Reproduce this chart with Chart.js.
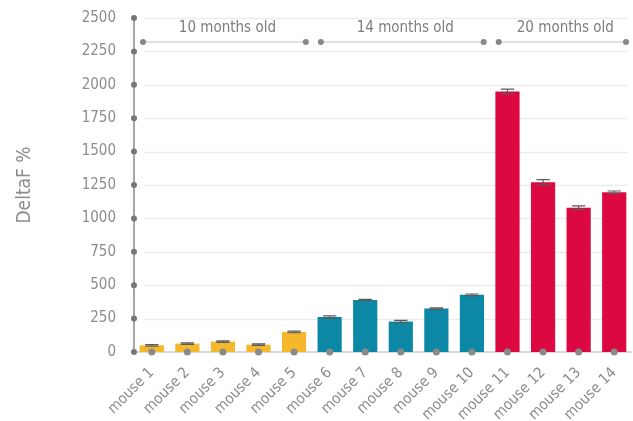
<!DOCTYPE html>
<html>
<head>
<meta charset="utf-8">
<script src="https://cdn.jsdelivr.net/npm/chart.js@4/dist/chart.umd.min.js"></script>
<style>
  html, body { margin: 0; padding: 0; background: #fff; }
  #wrap { position: relative; width: 633px; height: 421px; }
</style>
</head>
<body>
<div id="wrap"><canvas id="deltaChart"></canvas></div>
<script>
const mice = ["mouse 1", "mouse 2", "mouse 3", "mouse 4", "mouse 5", "mouse 6", "mouse 7",
  "mouse 8", "mouse 9", "mouse 10", "mouse 11", "mouse 12", "mouse 13", "mouse 14"];
const deltaF = [50, 63, 78, 55, 150, 262, 390, 228, 325, 428, 1950, 1270, 1080, 1195];
const deltaErr = [6, 6, 6, 6, 6, 8, 4, 8, 6, 6, 18, 20, 14, 10];
const yTicks = [0, 250, 500, 750, 1000, 1250, 1500, 1750, 2000, 2250, 2500];

// age groups: label, first and last mouse index
const groupLabels = ["10 months old", "14 months old", "20 months old"];
const groupStart = [0, 5, 10];
const groupEnd = [4, 9, 13];
const groupColors = ["#F5B82C", "#0D87A6", "#DB0841"];
const bracketLevel = 2320;

const FONT = "'Liberation Sans Narrow', 'DejaVu Sans Condensed', Roboto, sans-serif";

const barColors = mice.map((m, i) => {
  const g = groupStart.findIndex((s, k) => i >= s && i <= groupEnd[k]);
  return groupColors[g];
});

function dot(ctx, x, y, r, color) {
  ctx.beginPath();
  ctx.arc(x, y, r, 0, Math.PI * 2);
  ctx.fillStyle = color;
  ctx.fill();
}

const decorPlugin = {
  id: "decor",
  beforeDatasetsDraw(chart) {
    const { ctx, chartArea: a, scales: { x, y } } = chart;
    ctx.save();
    // light horizontal gridlines
    ctx.strokeStyle = "#ececec";
    ctx.lineWidth = 1.5;
    yTicks.forEach(v => {
      if (v === 0) return;
      const py = Math.round(y.getPixelForValue(v)) + 0.5;
      ctx.beginPath();
      ctx.moveTo(a.left + 10, py);
      ctx.lineTo(a.right - 4, py);
      ctx.stroke();
    });
    // baseline
    ctx.strokeStyle = "#c9cfd4";
    ctx.lineWidth = 1.5;
    const by = y.getPixelForValue(0);
    ctx.beginPath();
    ctx.moveTo(a.left, by);
    ctx.lineTo(a.right, by);
    ctx.stroke();
    // y axis line with tick dots
    ctx.strokeStyle = "#8a8a8a";
    ctx.lineWidth = 1.5;
    ctx.beginPath();
    ctx.moveTo(a.left, y.getPixelForValue(2500));
    ctx.lineTo(a.left, by);
    ctx.stroke();
    yTicks.forEach(v => dot(ctx, a.left, y.getPixelForValue(v), 3, "#777"));

    // age group brackets
    const half = (x.getPixelForValue(1) - x.getPixelForValue(0)) / 2;
    const ly = y.getPixelForValue(bracketLevel);
    groupLabels.forEach((label, k) => {
      const x0 = x.getPixelForValue(groupStart[k]) - half + 9;
      const x1 = x.getPixelForValue(groupEnd[k]) + half - 6;
      ctx.strokeStyle = "#d4d4d4";
      ctx.lineWidth = 1.5;
      ctx.beginPath();
      ctx.moveTo(x0, ly);
      ctx.lineTo(x1, ly);
      ctx.stroke();
      dot(ctx, x0, ly, 3, "#888");
      dot(ctx, x1, ly, 3, "#888");
      ctx.fillStyle = "#7d7d7d";
      ctx.font = "15px " + FONT;
      ctx.textAlign = "center";
      ctx.textBaseline = "middle";
      ctx.fillText(label, (x0 + x1) / 2 + 3, ly - 14);
    });
    ctx.restore();
  },
  afterDatasetsDraw(chart) {
    const { ctx, scales: { x, y } } = chart;
    const meta = chart.getDatasetMeta(0);
    ctx.save();
    // error caps
    meta.data.forEach((bar, i) => {
      const top = y.getPixelForValue(deltaF[i] + deltaErr[i]);
      const bot = y.getPixelForValue(deltaF[i] - deltaErr[i]);
      const w = bar.width * 0.55;
      ctx.strokeStyle = "#5a5a5a";
      ctx.lineWidth = 1.2;
      ctx.beginPath();
      ctx.moveTo(bar.x, top);
      ctx.lineTo(bar.x, bot);
      ctx.moveTo(bar.x - w / 2, top);
      ctx.lineTo(bar.x + w / 2, top);
      ctx.moveTo(bar.x - w / 2, bot);
      ctx.lineTo(bar.x + w / 2, bot);
      ctx.stroke();
    });
    // base dots at each category
    const by = y.getPixelForValue(0);
    mice.forEach((m, i) => dot(ctx, x.getPixelForValue(i), by, 3.5, "#8a8a8a"));
    ctx.restore();
  }
};

new Chart(document.getElementById("deltaChart"), {
  type: "bar",
  data: {
    labels: mice,
    datasets: [{
      label: "DeltaF %",
      data: deltaF,
      backgroundColor: barColors,
      borderWidth: 0,
      barPercentage: 0.68,
      categoryPercentage: 1.0
    }]
  },
  options: {
    responsive: true,
    maintainAspectRatio: false,
    animation: false,
    layout: { padding: { top: 18, right: 1, left: 0, bottom: 0 } },
    plugins: {
      legend: { display: false },
      tooltip: { enabled: false }
    },
    scales: {
      x: {
        offset: true,
        grid: { display: false, drawTicks: false },
        border: { display: false },
        ticks: {
          minRotation: 45,
          maxRotation: 45,
          padding: 12,
          color: "#8c8c8c",
          font: { family: FONT, size: 15 }
        },
        afterFit(scale) {
          scale.height = 69;
          scale.paddingLeft = 0;
          scale.paddingRight = 0;
        }
      },
      y: {
        min: 0,
        max: 2500,
        afterBuildTicks(scale) { scale.ticks = yTicks.map(v => ({ value: v })); },
        grid: { display: false, drawTicks: false },
        border: { display: false },
        ticks: {
          padding: 18,
          color: "#8c8c8c",
          font: { family: FONT, size: 15 },
          callback: v => String(v)
        },
        title: {
          display: true,
          text: "DeltaF %",
          color: "#8c8c8c",
          font: { family: FONT, size: 19 },
          padding: { top: 14, bottom: 0 }
        },
        afterFit(scale) {
          scale.width = 134;
          scale.paddingTop = 0;
          scale.paddingBottom = 0;
        }
      }
    }
  },
  plugins: [decorPlugin]
});
</script>
</body>
</html>
